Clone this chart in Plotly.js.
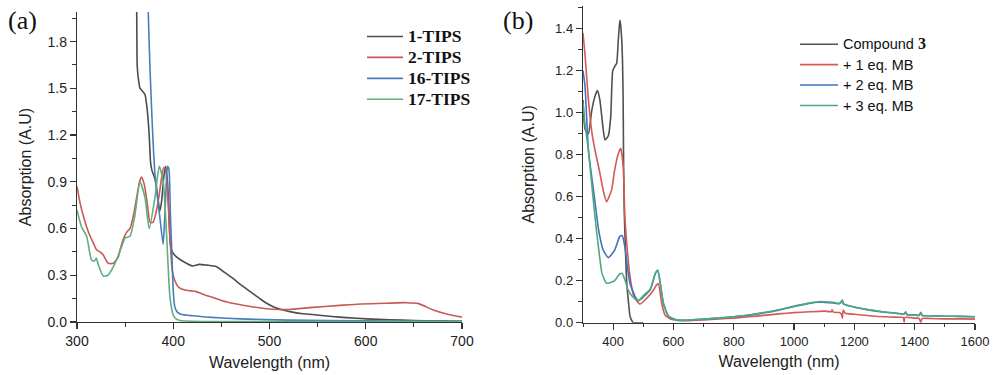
<!DOCTYPE html>
<html>
<head>
<meta charset="utf-8">
<script src="https://cdn.plot.ly/plotly-3.0.1.min.js"></script>
<style>
  html, body { margin: 0; padding: 0; background: #fff; }
  #chart { width: 999px; height: 375px; }
</style>
</head>
<body>
<div id="chart"></div>
<script>
// ---------- Panel (a) data ----------
const namesA = ['1-TIPS', '2-TIPS', '16-TIPS', '17-TIPS'];

const wl1 = [358, 362, 362.6, 364, 365.5, 367, 370.6, 373, 375, 376.5, 378, 381, 384, 386, 388, 390, 392, 394, 395.5, 397, 399, 403, 410, 420, 427, 435, 445, 453, 462, 470, 480, 490, 497, 505, 514, 525, 535, 549, 565, 580, 601, 625, 650, 675, 700];
const abs1 = [3.0, 2.0, 1.64, 1.55, 1.5, 1.49, 1.46, 1.36, 1.2, 1.02, 0.97, 0.92, 0.8, 0.71, 0.78, 0.92, 1.0, 0.9, 0.7, 0.5, 0.45, 0.42, 0.39, 0.36, 0.37, 0.365, 0.355, 0.32, 0.28, 0.24, 0.195, 0.15, 0.12, 0.095, 0.077, 0.062, 0.053, 0.045, 0.035, 0.028, 0.02, 0.014, 0.01, 0.007, 0.005];

const wl2 = [300, 303, 306.6, 310, 313, 317, 320.4, 324, 327.3, 332.5, 337.7, 343, 345, 348, 352, 355, 358.5, 362, 365, 367, 370, 373, 376, 379, 382, 385, 388, 390, 392, 394, 396, 397.5, 399, 402, 406, 412, 418, 424, 430, 440, 455, 480, 504, 520, 545, 570, 594, 620, 642, 655, 670, 685, 698, 700];
const abs2 = [0.87, 0.77, 0.68, 0.61, 0.56, 0.506, 0.463, 0.45, 0.43, 0.377, 0.377, 0.42, 0.47, 0.53, 0.58, 0.6, 0.68, 0.8, 0.9, 0.93, 0.88, 0.76, 0.64, 0.64, 0.7, 0.8, 0.93, 0.99, 0.98, 0.85, 0.6, 0.45, 0.33, 0.26, 0.22, 0.205, 0.2, 0.195, 0.18, 0.16, 0.13, 0.1, 0.082, 0.08, 0.094, 0.105, 0.116, 0.12, 0.124, 0.118, 0.077, 0.05, 0.034, 0.032];

const wl16 = [372, 374, 376, 378, 379.5, 381, 384, 386.5, 389.5, 391, 393, 394, 395.5, 397, 398.5, 400, 401.5, 404, 408, 420, 440, 470, 520, 600, 700];
const abs16 = [2.6, 2.0, 1.6, 1.3, 1.1, 0.95, 0.78, 0.65, 0.5, 0.65, 0.92, 1.0, 0.98, 0.7, 0.45, 0.2, 0.1, 0.065, 0.05, 0.04, 0.03, 0.02, 0.012, 0.007, 0.005];

const wl17 = [300, 304.8, 310, 315, 318, 320, 322, 327.3, 332, 339.5, 346.4, 350, 355, 360, 365.4, 370.6, 375, 381, 385.5, 389.6, 393, 396.6, 400, 403, 407, 420, 500, 600, 700];
const abs17 = [0.72, 0.61, 0.55, 0.4, 0.39, 0.41, 0.37, 0.295, 0.3, 0.377, 0.484, 0.54, 0.55, 0.68, 0.9, 0.8, 0.6, 0.8, 1.0, 0.9, 0.57, 0.16, 0.045, 0.02, 0.01, 0.005, 0.003, 0.003, 0.003];

// ---------- Panel (b) data ----------
const namesB = ['Compound 3', '+ 1 eq. MB', '+ 2 eq. MB', '+ 3 eq. MB'];

const wlC3 = [300, 307, 318, 329, 340, 348, 356, 367, 373, 384, 392, 398.5, 405, 411.7, 417, 421, 423, 426, 429, 431, 433, 435, 437, 440, 445, 450, 456, 462, 467, 480, 500];
const absC3 = [1.06, 0.92, 0.9, 1.01, 1.08, 1.105, 1.06, 0.92, 0.87, 0.89, 0.98, 1.2, 1.22, 1.235, 1.346, 1.42, 1.44, 1.4, 1.33, 1.25, 1.08, 0.7, 0.52, 0.38, 0.19, 0.11, 0.03, 0.01, 0.0, 0.0, 0.0];

const wlM1 = [300, 307, 318, 330, 340, 355, 367, 378, 394.5, 405, 416, 425, 433.6, 439, 447, 456, 469, 489, 511, 534, 544, 550, 561, 572, 595, 630, 650, 700, 750, 800, 850, 900, 950, 1000, 1050, 1100, 1124, 1126, 1130, 1150, 1157, 1160, 1163, 1170, 1200, 1250, 1300, 1350, 1362, 1365, 1368, 1400, 1415, 1420, 1425, 1450, 1500, 1550, 1600];
const absM1 = [1.38, 1.27, 1.06, 0.9, 0.82, 0.72, 0.63, 0.576, 0.63, 0.727, 0.8, 0.83, 0.74, 0.5, 0.346, 0.22, 0.124, 0.089, 0.116, 0.156, 0.18, 0.185, 0.092, 0.037, 0.015, 0.01, 0.01, 0.013, 0.018, 0.022, 0.028, 0.035, 0.042, 0.048, 0.052, 0.055, 0.053, 0.062, 0.05, 0.048, 0.04, 0.022, 0.06, 0.045, 0.04, 0.033, 0.028, 0.026, 0.025, 0.003, 0.025, 0.022, 0.02, 0.002, 0.02, 0.02, 0.018, 0.018, 0.017];

const wlM2 = [300, 307, 318, 335, 352, 367, 384, 405, 421.5, 430, 439, 447, 456, 473, 484, 501, 523, 540, 548, 556, 567, 584, 612, 650, 700, 750, 800, 850, 900, 950, 1000, 1050, 1080, 1100, 1130, 1150, 1157, 1160, 1163, 1170, 1200, 1250, 1300, 1350, 1365, 1370, 1375, 1400, 1415, 1420, 1425, 1450, 1500, 1550, 1600];
const absM2 = [1.2, 1.12, 0.82, 0.63, 0.44, 0.346, 0.31, 0.346, 0.41, 0.415, 0.36, 0.267, 0.187, 0.124, 0.105, 0.124, 0.156, 0.235, 0.25, 0.19, 0.09, 0.03, 0.012, 0.012, 0.017, 0.022, 0.028, 0.036, 0.047, 0.06, 0.077, 0.092, 0.098, 0.097, 0.094, 0.09, 0.1, 0.108, 0.09, 0.085, 0.074, 0.06, 0.05, 0.043, 0.04, 0.052, 0.038, 0.037, 0.035, 0.05, 0.035, 0.033, 0.031, 0.03, 0.028];

const wlM3 = [300, 307, 318, 329, 340, 352, 363, 378, 389, 405, 421.5, 430, 440, 450, 467, 484, 501, 523, 540, 548, 556, 567, 584, 612, 650, 700, 750, 800, 850, 900, 950, 1000, 1050, 1080, 1100, 1130, 1150, 1157, 1160, 1163, 1170, 1200, 1250, 1300, 1350, 1365, 1370, 1375, 1400, 1415, 1420, 1425, 1450, 1500, 1550, 1600];
const absM3 = [1.05, 0.94, 0.82, 0.66, 0.5, 0.35, 0.235, 0.188, 0.19, 0.2, 0.232, 0.235, 0.2, 0.155, 0.12, 0.105, 0.13, 0.16, 0.235, 0.25, 0.19, 0.09, 0.03, 0.012, 0.012, 0.017, 0.022, 0.028, 0.037, 0.048, 0.062, 0.079, 0.094, 0.1, 0.1, 0.097, 0.092, 0.1, 0.105, 0.09, 0.086, 0.075, 0.061, 0.051, 0.044, 0.041, 0.05, 0.039, 0.037, 0.035, 0.045, 0.035, 0.033, 0.031, 0.03, 0.028];

// ---------- styling ----------
const colA = ['#4d4d4d', '#c65a55', '#4a7ebb', '#62ad80'];
const colB = ['#505050', '#d45a55', '#3f73c0', '#4fa880'];

function nameA(s) { return '<b><span style="font-size:17.5px">' + s + '</span></b>'; }
function nameB(s) {
  if (s === 'Compound 3') return '<span style="font-size:14.5px">Compound </span><span style="font-family:Liberation Serif;font-weight:bold;font-size:16px">3</span>';
  return '<span style="font-size:14.5px">' + s + '</span>';
}

const dataA = [[wl1, abs1], [wl2, abs2], [wl16, abs16], [wl17, abs17]];
const dataB = [[wlC3, absC3], [wlM1, absM1], [wlM2, absM2], [wlM3, absM3]];

const traces = [];
dataA.forEach((d, i) => traces.push({
  x: d[0], y: d[1], type: 'scatter', mode: 'lines', name: nameA(namesA[i]),
  xaxis: 'x', yaxis: 'y', legend: 'legend',
  line: { color: colA[i], width: 1.6, shape: 'spline', smoothing: 0.6 }
}));
dataB.forEach((d, i) => traces.push({
  x: d[0], y: d[1], type: 'scatter', mode: 'lines', name: nameB(namesB[i]),
  xaxis: 'x2', yaxis: 'y2', legend: 'legend2',
  line: { color: colB[i], width: 1.6, shape: 'spline', smoothing: 0.5 }
}));

const axCommon = {
  showline: true, linecolor: '#333', linewidth: 1.2,
  ticks: 'outside', ticklen: 6, tickwidth: 1.2, tickcolor: '#333',
  showgrid: false, zeroline: false, mirror: false, fixedrange: true,
  color: '#222'
};

const layout = {
  width: 999, height: 375,
  margin: { l: 0, r: 0, t: 0, b: 0 },
  paper_bgcolor: '#fff', plot_bgcolor: '#fff',
  font: { family: 'Liberation Sans, Arial, sans-serif', color: '#222' },
  xaxis: Object.assign({}, axCommon, {
    domain: [77 / 999, 462 / 999], range: [300, 700], anchor: 'y',
    tick0: 300, dtick: 100, tickfont: { size: 14 },
    minor: { ticks: 'outside', ticklen: 3.5, dtick: 50, tickcolor: '#333', tickwidth: 1 },
    title: { text: 'Wavelength (nm)', font: { size: 16, color: '#222' }, standoff: 8 }
  }),
  yaxis: Object.assign({}, axCommon, {
    domain: [1 - 322 / 375, 1 - 12 / 375], range: [0, 1.99], anchor: 'x',
    tick0: 0, dtick: 0.3, tickformat: '.1f', tickfont: { size: 14 },
    minor: { ticks: 'outside', ticklen: 3.5, dtick: 0.15, tickcolor: '#333', tickwidth: 1 },
    title: { text: 'Absorption (A.U)', font: { size: 16, color: '#222' }, standoff: 12 }
  }),
  xaxis2: Object.assign({}, axCommon, {
    domain: [583 / 999, 975 / 999], range: [300, 1600], anchor: 'y2',
    tick0: 400, dtick: 200, tickfont: { size: 13 },
    minor: { ticks: 'outside', ticklen: 3.5, dtick: 100, tickcolor: '#333', tickwidth: 1 },
    title: { text: 'Wavelength (nm)', font: { size: 16, color: '#222' }, standoff: 8 }
  }),
  yaxis2: Object.assign({}, axCommon, {
    domain: [1 - 322.7 / 375, 1 - 6 / 375], range: [0, 1.508], anchor: 'x2',
    tick0: 0, dtick: 0.2, tickformat: '.1f', tickfont: { size: 13 },
    minor: { ticks: 'outside', ticklen: 3.5, dtick: 0.1, tickcolor: '#333', tickwidth: 1 },
    title: { text: 'Absorption (A.U)', font: { size: 16, color: '#222' }, standoff: 16 }
  }),
  legend: {
    x: 362 / 999, y: 1 - 21 / 375, xanchor: 'left', yanchor: 'top',
    bgcolor: 'rgba(0,0,0,0)', borderwidth: 0, itemwidth: 36,
    font: { family: 'Liberation Serif, Times New Roman, serif', size: 13.8, color: '#111' }
  },
  legend2: {
    x: 795 / 999, y: 1 - 29 / 375, xanchor: 'left', yanchor: 'top',
    bgcolor: 'rgba(0,0,0,0)', borderwidth: 0, itemwidth: 38,
    font: { family: 'Liberation Sans, Arial, sans-serif', size: 13.4, color: '#111' }
  },
  showlegend: true,
  annotations: [
    { text: '(a)', xref: 'paper', yref: 'paper', x: 22 / 999, y: 1 - 20 / 375,
      xanchor: 'center', yanchor: 'middle', showarrow: false,
      font: { family: 'Liberation Serif, Times New Roman, serif', size: 26, color: '#111' } },
    { text: '(b)', xref: 'paper', yref: 'paper', x: 518 / 999, y: 1 - 20 / 375,
      xanchor: 'center', yanchor: 'middle', showarrow: false,
      font: { family: 'Liberation Serif, Times New Roman, serif', size: 26, color: '#111' } }
  ]
};

Plotly.newPlot('chart', traces, layout, { displayModeBar: false, staticPlot: true });
</script>
</body>
</html>
